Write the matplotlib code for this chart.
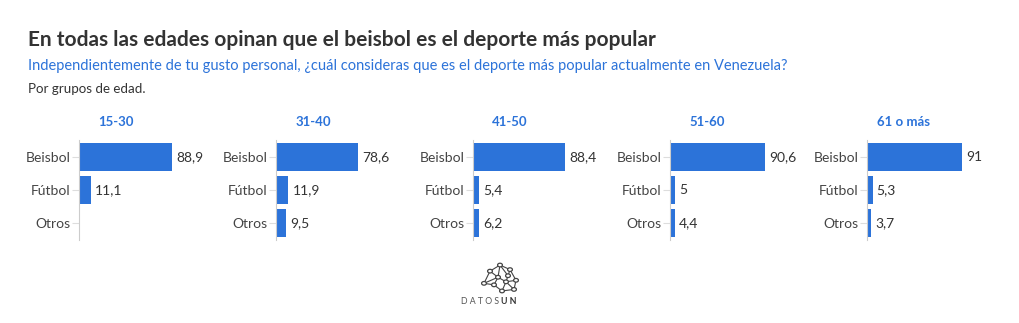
import matplotlib.pyplot as plt
from matplotlib.patches import Circle

# datos
grupos = ["15-30", "31-40", "41-50", "51-60", "61 o más"]
deportes = ["Beisbol", "Fútbol", "Otros"]
beisbol = [88.9, 78.6, 88.4, 90.6, 91]
futbol = [11.1, 11.9, 5.4, 5, 5.3]
otros = [None, 9.5, 6.2, 4.4, 3.7]

titulo = "En todas las edades opinan que el beisbol es el deporte más popular"
subtitulo = "Independientemente de tu gusto personal, ¿cuál consideras que es el deporte más popular actualmente en Venezuela?"
nota = "Por grupos de edad."

AZUL = "#2c73d9"
W, H = 1020, 323
plt.rcParams['font.family'] = ['Lato', 'DejaVu Sans']

fig = plt.figure(figsize=(W / 100, H / 100), dpi=100)
fig.text(28 / W, 1 - 40 / H, titulo, fontsize=15, fontweight='bold', color='#333333', va='center')
fig.text(28 / W, 1 - 66 / H, subtitulo, fontsize=10.5, color=AZUL, va='center')
fig.text(28 / W, 1 - 89 / H, nota, fontsize=9.6, color='#333333', va='center')

lefts = [79, 276, 473, 670, 867]
for i, g in enumerate(grupos):
    ax = fig.add_axes([lefts[i] / W, 1 - 240 / H, 104.5 / W, 100 / H])
    vals = [beisbol[i], futbol[i], otros[i]]
    for j, v in enumerate(vals):
        if v is None:
            continue
        ax.barh(j, v, height=0.84, color=AZUL)
        ax.annotate(f"{v:g}".replace('.', ','), (v, j), xytext=(3, 0), textcoords='offset points',
                    va='center', ha='left', fontsize=10, color='#333333')
    ax.set_xlim(0, 100)
    ax.set_ylim(2.5, -0.5)
    ax.set_yticks(range(len(deportes)))
    ax.set_yticklabels(deportes, fontsize=10, color='#444444')
    ax.tick_params(axis='y', length=5, color='#dddddd', pad=1)
    ax.set_xticks([])
    for s in ['top', 'right', 'bottom']:
        ax.spines[s].set_visible(False)
    ax.spines['left'].set_color('#cccccc')
    ax.text(35.4, -1.05, g, ha='center', va='center',
            fontsize=9.5, fontweight='bold', color=AZUL)
    ax.patch.set_alpha(0)

# logo DatosUN
lg = fig.add_axes([480 / W, 1 - 294 / H, 40 / W, 32 / H])
nodos = [(0.25, 0.75), (0.5, 0.95), (0.75, 0.8), (0.45, 0.55), (0.1, 0.35), (0.35, 0.3),
         (0.65, 0.4), (0.9, 0.45), (0.55, 0.1), (0.85, 0.15), (0.7, 0.6)]
aristas = [(0, 1), (1, 2), (0, 3), (1, 3), (3, 4), (4, 5), (3, 5), (3, 6), (6, 7), (2, 7),
           (5, 8), (6, 8), (8, 9), (7, 9), (2, 10), (10, 6), (1, 10), (0, 4), (6, 9)]
for a, b in aristas:
    lg.plot([nodos[a][0], nodos[b][0]], [nodos[a][1], nodos[b][1]], color='#444444', lw=0.8)
for x, y in nodos:
    lg.add_patch(Circle((x, y), 0.06, facecolor='white', edgecolor='#444444', lw=0.9, zorder=3))
lg.set_xlim(0, 1)
lg.set_ylim(0, 1.05)
lg.axis('off')
fig.text(501 / W, 1 - 302 / H, "D A T O S ", fontsize=6.3, color='#555555', ha='right', va='center')
fig.text(501 / W, 1 - 302 / H, "U N", fontsize=6.3, fontweight='bold', color='#333333', ha='left', va='center')

fig.savefig("out.png", dpi=100)
